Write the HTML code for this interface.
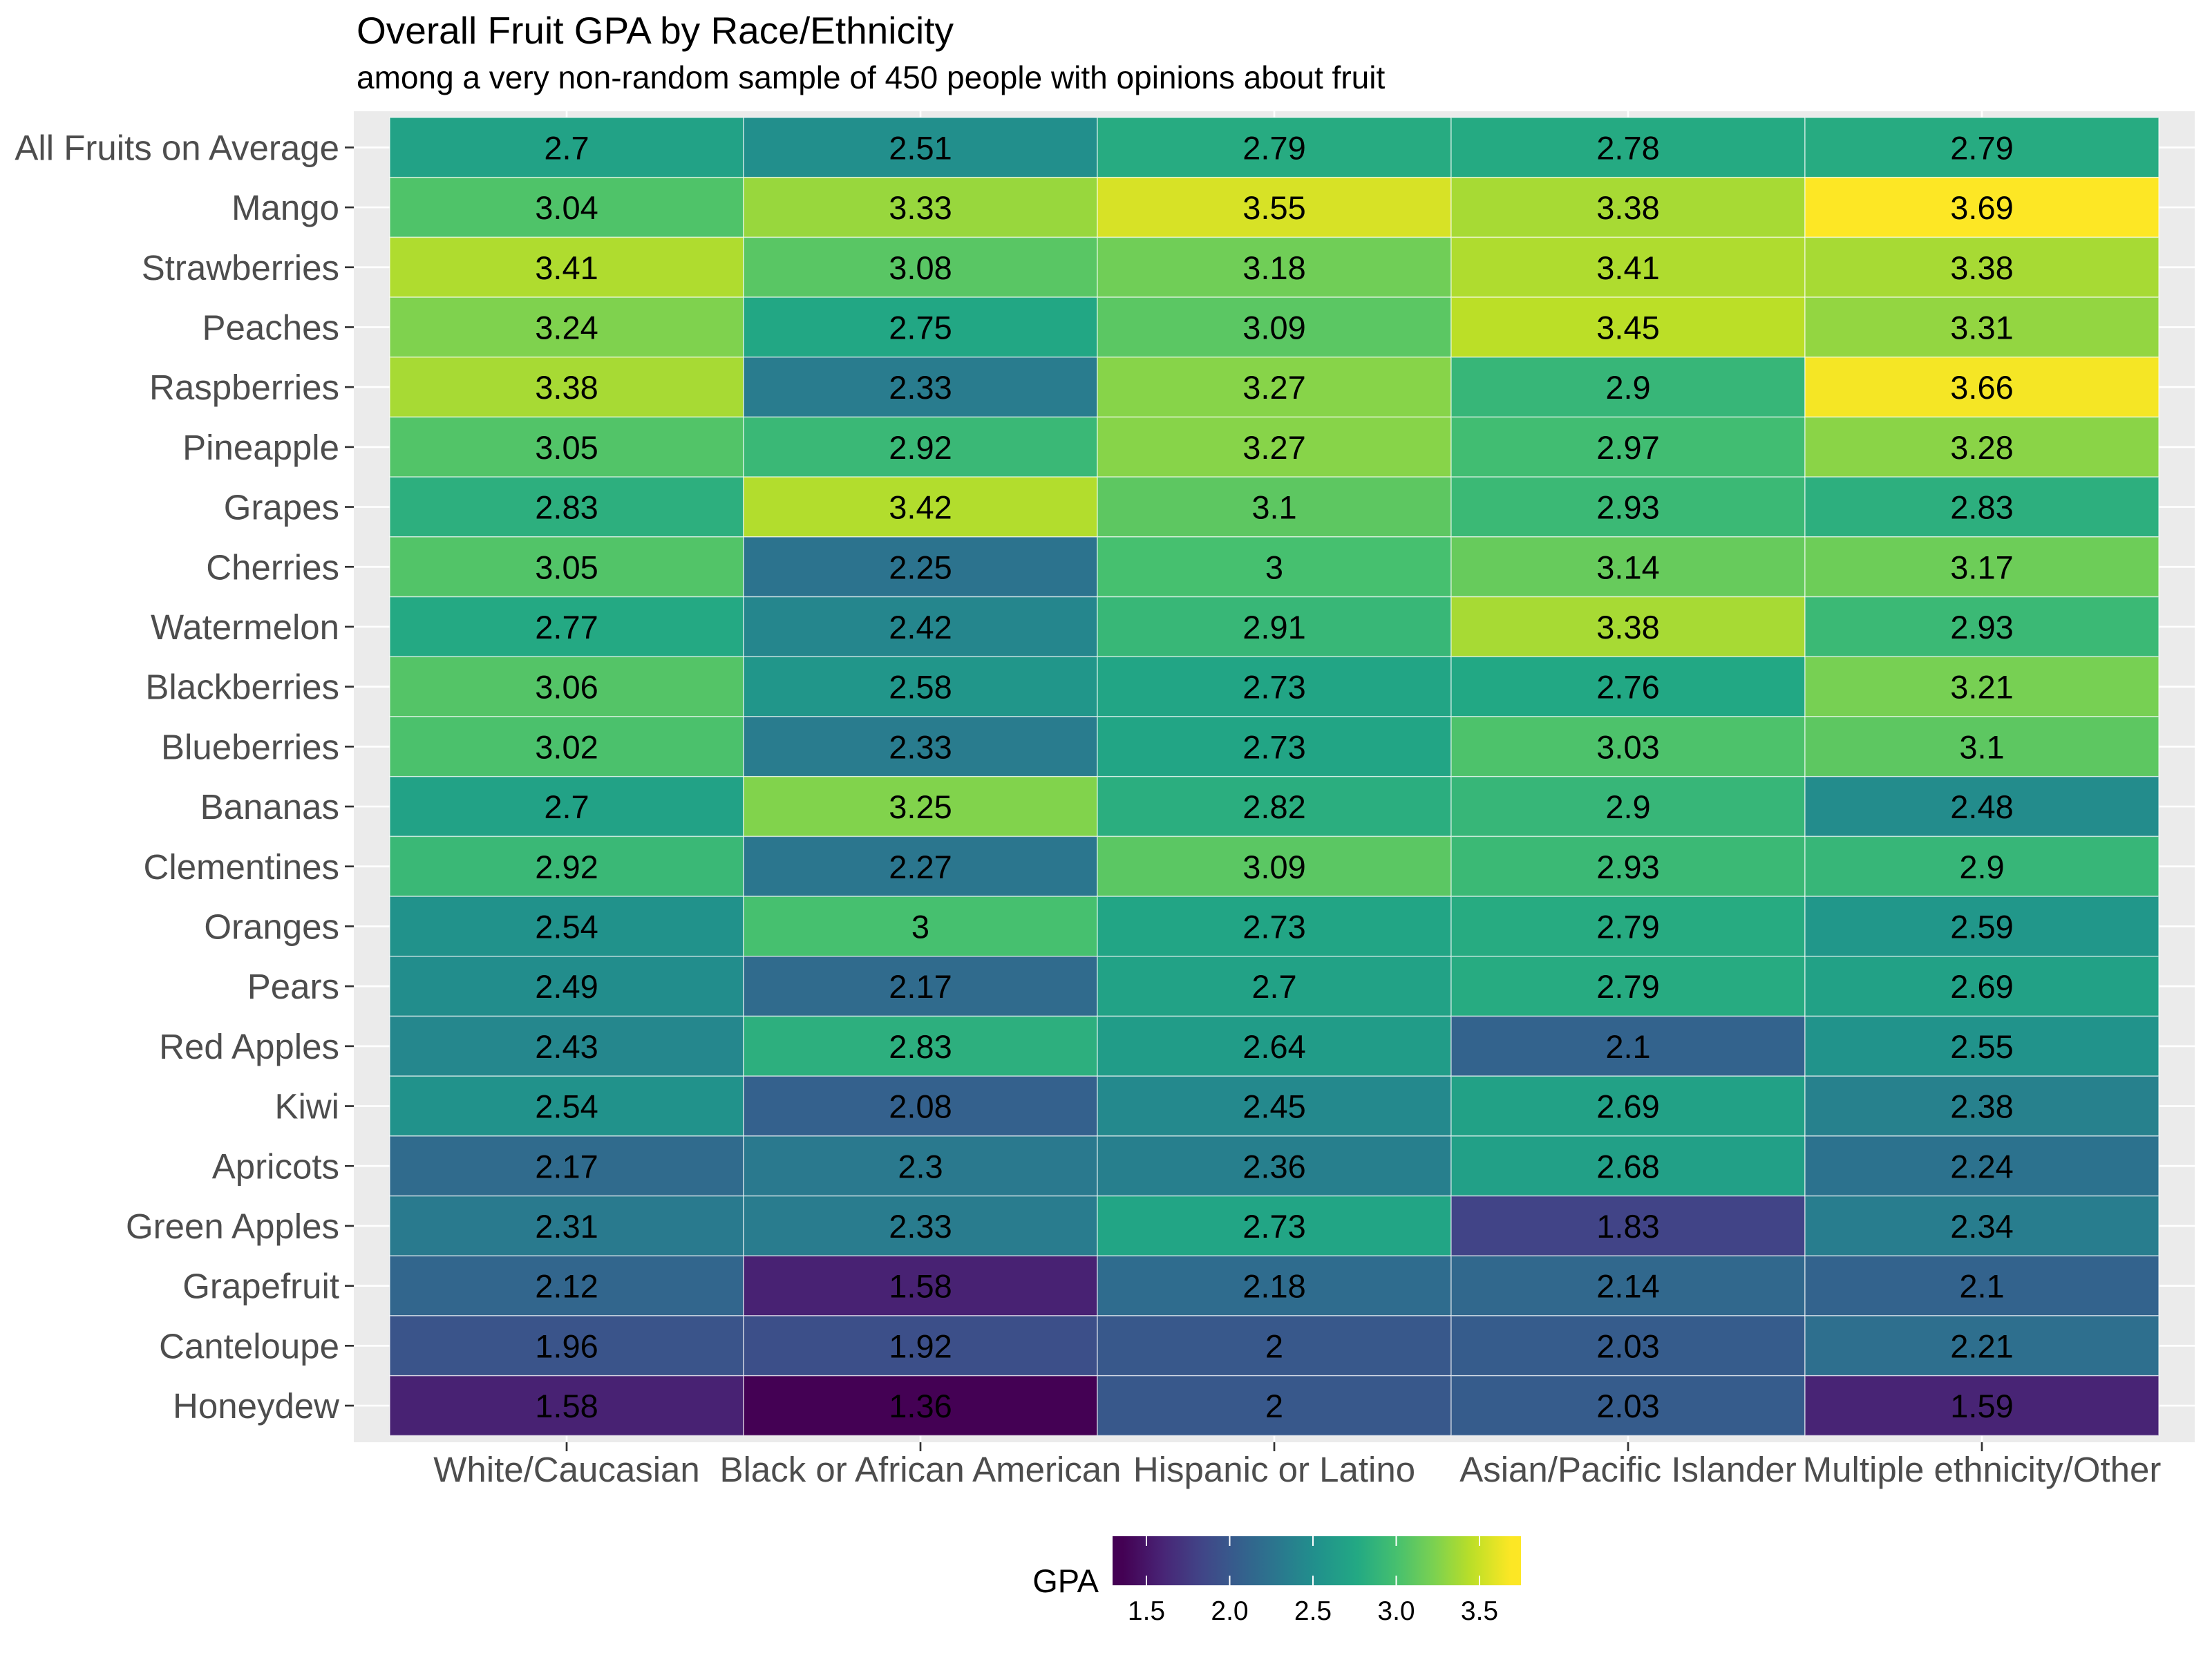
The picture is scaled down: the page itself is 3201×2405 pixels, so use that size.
<!DOCTYPE html>
<html><head><meta charset="utf-8"><style>
html,body{margin:0;padding:0;background:#fff;}
svg text{font-family:"Liberation Sans",Arial,sans-serif;}
</style></head><body>
<svg id="chart" xmlns="http://www.w3.org/2000/svg" width="3201" height="2400" viewBox="0 0 3201 2400">
<rect width="3201" height="2400" fill="#fff"/>
<text x="516" y="63" font-size="55" fill="#000">Overall Fruit GPA by Race/Ethnicity</text>
<text x="516" y="128" font-size="46" fill="#000">among a very non-random sample of 450 people with opinions about fruit</text>
<g id="panel"></g>
<g id="legend"></g>
</svg>
<script>
const groups = ["White/Caucasian","Black or African American","Hispanic or Latino","Asian/Pacific Islander","Multiple ethnicity/Other"];
const fruits = ["All Fruits on Average","Mango","Strawberries","Peaches","Raspberries","Pineapple","Grapes","Cherries","Watermelon","Blackberries","Blueberries","Bananas","Clementines","Oranges","Pears","Red Apples","Kiwi","Apricots","Green Apples","Grapefruit","Canteloupe","Honeydew"];
const gpaWhite    = [2.7,3.04,3.41,3.24,3.38,3.05,2.83,3.05,2.77,3.06,3.02,2.7,2.92,2.54,2.49,2.43,2.54,2.17,2.31,2.12,1.96,1.58];
const gpaBlack    = [2.51,3.33,3.08,2.75,2.33,2.92,3.42,2.25,2.42,2.58,2.33,3.25,2.27,3,2.17,2.83,2.08,2.3,2.33,1.58,1.92,1.36];
const gpaHispanic = [2.79,3.55,3.18,3.09,3.27,3.27,3.1,3,2.91,2.73,2.73,2.82,3.09,2.73,2.7,2.64,2.45,2.36,2.73,2.18,2,2];
const gpaAsian    = [2.78,3.38,3.41,3.45,2.9,2.97,2.93,3.14,3.38,2.76,3.03,2.9,2.93,2.79,2.79,2.1,2.69,2.68,1.83,2.14,2.03,2.03];
const gpaMultiple = [2.79,3.69,3.38,3.31,3.66,3.28,2.83,3.17,2.93,3.21,3.1,2.48,2.9,2.59,2.69,2.55,2.38,2.24,2.34,2.1,2.21,1.59];
const legendTicks = [1.5,2.0,2.5,3.0,3.5];
const legendTickLabels = ["1.5","2.0","2.5","3.0","3.5"];
const series = [gpaWhite,gpaBlack,gpaHispanic,gpaAsian,gpaMultiple];

const NS="http://www.w3.org/2000/svg";
function mk(tag,attrs,parent){const e=document.createElementNS(NS,tag);for(const k in attrs)e.setAttribute(k,attrs[k]);parent.appendChild(e);return e;}
const vir=["#440154","#482475","#414487","#355f8d","#2a788e","#21918c","#22a884","#44bf70","#7ad151","#bddf26","#fde725"];
function hex(h){return [1,3,5].map(i=>parseInt(h.substr(i,2),16));}
const allVals=series.flat();
const vmin=Math.min(...allVals), vmax=Math.max(...allVals);
function color(v){let t=(v-vmin)/(vmax-vmin);t=Math.max(0,Math.min(1,t));const p=t*10,i=Math.min(9,Math.floor(p)),f=p-i;const a=hex(vir[i]),b=hex(vir[i+1]);return "rgb("+a.map((c,k)=>Math.round(c+(b[k]-c)*f)).join(",")+")";}

const tileL=564, colW=512, tileT=170, rowH=86.7;
const panelL=512, panelR=3176, panelT=161, panelB=2087;
function xCenter(i){return tileL+colW*(i+0.5);}
function yCenter(j){return tileT+rowH*(j+0.5);}

const panel=document.getElementById('panel');
const bg=mk('rect',{x:panelL,y:panelT,width:panelR-panelL,height:panelB-panelT,fill:'#EBEBEB'},panel);


groups.forEach((g,i)=>{const l=mk('line',{x1:xCenter(i),x2:xCenter(i),y1:panelT,y2:panelB,stroke:'#fff','stroke-width':2.7},panel);

});
fruits.forEach((f,j)=>{const l=mk('line',{x1:panelL,x2:panelR,y1:yCenter(j),y2:yCenter(j),stroke:'#fff','stroke-width':2.7},panel);

});
series.forEach((vals,i)=>{vals.forEach((v,j)=>{
  const r=mk('rect',{x:tileL+colW*i,y:tileT+rowH*j,width:colW,height:rowH,fill:color(v),stroke:'#fff','stroke-opacity':0.6,'stroke-width':1.5},panel);
  
  
  const t=mk('text',{x:xCenter(i),y:yCenter(j)+17,'text-anchor':'middle','font-size':47,fill:'#000'},panel);
  t.textContent=String(v);
  
  
});});
fruits.forEach((f,j)=>{
  const tk=mk('line',{x1:panelL-13,x2:panelL,y1:yCenter(j),y2:yCenter(j),stroke:'#333','stroke-width':2.7},panel);
  
  
  const t=mk('text',{x:491,y:yCenter(j)+18,'text-anchor':'end','font-size':51,fill:'#4D4D4D'},panel);
  t.textContent=f;
  
  
});
groups.forEach((g,i)=>{
  const tk=mk('line',{x1:xCenter(i),x2:xCenter(i),y1:panelB,y2:panelB+13,stroke:'#333','stroke-width':2.7},panel);
  
  
  const t=mk('text',{x:xCenter(i),y:2144,'text-anchor':'middle','font-size':51,fill:'#4D4D4D'},panel);
  t.textContent=g;
  
  
});

// legend
const lg=document.getElementById('legend');
const barL=1610, barR=2201, barT=2223, barB=2294;
function lx(v){return 1659+(v-1.5)*241;}
const defs=mk('defs',{},lg);
const grad=mk('linearGradient',{id:'vgrad',x1:0,x2:1,y1:0,y2:0},defs);
for(let k=0;k<=40;k++){const x=barL+(barR-barL)*k/40;const v=1.5+(x-1659)/241;mk('stop',{offset:(k/40),'stop-color':color(v)},grad);}
const bar=mk('rect',{x:barL,y:barT,width:barR-barL,height:barB-barT,fill:'url(#vgrad)'},lg);


legendTicks.forEach((v,k)=>{
  const a=mk('line',{x1:lx(v),x2:lx(v),y1:barT,y2:barT+14,stroke:'#fff','stroke-width':2},lg);
  
  
  const b=mk('line',{x1:lx(v),x2:lx(v),y1:barB-14,y2:barB,stroke:'#fff','stroke-width':2},lg);
  
  
  const t=mk('text',{x:lx(v),y:2344,'text-anchor':'middle','font-size':39,fill:'#000'},lg);
  t.textContent=legendTickLabels[k];
  
  
});
const lt=mk('text',{x:1590,y:2304,'text-anchor':'end','font-size':47,fill:'#000'},lg);
lt.textContent='GPA';


</script>
</body></html>
